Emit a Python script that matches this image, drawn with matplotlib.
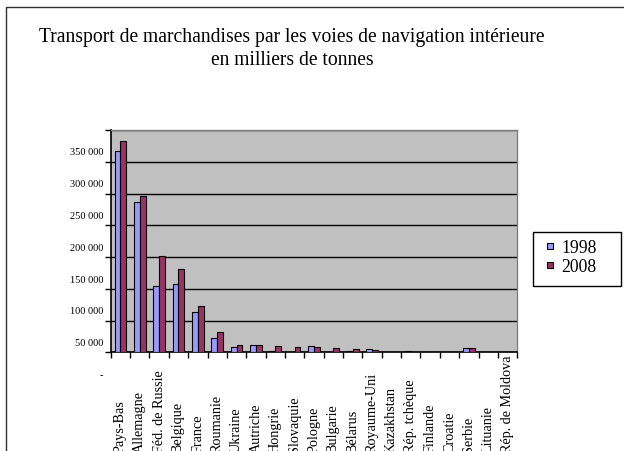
import matplotlib
matplotlib.use("Agg")
import matplotlib.pyplot as plt
import matplotlib.transforms as mtransforms
from matplotlib.patches import Rectangle
from matplotlib.lines import Line2D
import numpy as np

categories = ['Pays-Bas', 'Allemagne', 'Féd. de Russie', 'Belgique', 'France',
              'Roumanie', 'Ukraine', 'Autriche', 'Hongrie', 'Slovaquie',
              'Pologne', 'Bulgarie', 'Bélarus', 'Royaume-Uni', 'Kazakhstan',
              'Rép. tchèque', 'Finlande', 'Croatie', 'Serbie', 'Lituanie',
              'Rép. de Moldova']
values_1998 = [316500, 236500, 104400, 107600, 63100, 23200, 9000, 11100, 2500,
               900, 9200, 500, 1600, 4800, 0, 1800, 0, 700, 6400, 0, 0]
values_2008 = [332600, 245500, 151200, 131000, 72400, 31200, 11300, 11800, 9500,
               8500, 8200, 7000, 5400, 3800, 1000, 1200, 0, 0, 6400, 0, 0]
series_labels = ['1998', '2008']
series_colors = ['#9999FF', '#993366']
ytick_values = [0, 50000, 100000, 150000, 200000, 250000, 300000, 350000]
ytick_labels = ['-', '50 000', '100 000', '150 000', '200 000', '250 000',
                '300 000', '350 000']
title = "Transport de marchandises par les voies de navigation intérieure\nen milliers de tonnes"

plt.rcParams['font.family'] = ['Liberation Serif', 'DejaVu Serif']

W, H = 624, 452
fig = plt.figure(figsize=(W / 100, H / 100), dpi=100)
fig.patch.set_facecolor('white')

# outer chart frame
fig.patches.append(Rectangle((6 / W, -0.1), 1.2, (H - 8) / H + 0.1,
                             transform=fig.transFigure, fill=False,
                             edgecolor='#303030', linewidth=1.0))

left, right, top, bottom = 110.7, 517.3, 131, 353.3
ax = fig.add_axes([left / W, (H - bottom) / H, (right - left) / W, (bottom - top) / H])
ax.set_facecolor('#C0C0C0')

x = np.arange(len(categories))
bw = 0.3
ax.bar(x - bw / 2, values_1998, width=bw, color=series_colors[0], edgecolor='black',
       linewidth=0.8, label=series_labels[0], zorder=3)
ax.bar(x + bw / 2, values_2008, width=bw, color=series_colors[1], edgecolor='black',
       linewidth=0.8, label=series_labels[1], zorder=3)

ax.set_xlim(-0.5, len(categories) - 0.5)
ax.set_ylim(0, 350000)

ax.set_yticks(ytick_values)
ax.set_yticklabels(ytick_labels, fontsize=7.5)
ax.yaxis.grid(True, color='black', linewidth=1.0, zorder=1)
ax.set_axisbelow(True)
ax.tick_params(axis='y', direction='out', length=4, width=1, pad=1.5)
offset = mtransforms.ScaledTranslation(0, -21 / 100, fig.dpi_scale_trans)
for lab in ax.get_yticklabels():
    lab.set_transform(lab.get_transform() + offset)

ax.set_xticks(x)
ax.set_xticklabels(categories, rotation=90, fontsize=10.2, va='bottom', ha='center')
ax.set_xticks(np.arange(-0.5, len(categories), 1), minor=True)
ax.tick_params(axis='x', which='major', length=0, pad=0)
ax.tick_params(axis='x', which='minor', direction='out', length=4, width=1)
xoffset = mtransforms.ScaledTranslation(0, -(453 - bottom) / 100, fig.dpi_scale_trans)
for lab in ax.get_xticklabels():
    lab.set_transform(lab.get_transform() + xoffset)

for s in ['left', 'bottom']:
    ax.spines[s].set_color('black')
    ax.spines[s].set_linewidth(1.2)
for s in ['top', 'right']:
    ax.spines[s].set_color('#808080')
    ax.spines[s].set_linewidth(1.0)

fig.text(292 / W, 1 - 49 / H, title, ha='center', va='center', fontsize=14.1,
         linespacing=1.28)

# legend box
fig.patches.append(Rectangle((533 / W, 1 - 287 / H), 88 / W, 54 / H,
                             transform=fig.transFigure, fill=True,
                             facecolor='white', edgecolor='black', linewidth=1.0))
handles = [Line2D([], [], linestyle='none', marker='s', markersize=4.3,
                  markerfacecolor=c, markeredgecolor='black', markeredgewidth=0.8)
           for c in series_colors]
leg = fig.legend(handles, series_labels, loc='upper left',
                 bbox_to_anchor=(544 / W, 1 - 240 / H),
                 bbox_transform=fig.transFigure,
                 prop={'size': 12.7}, frameon=False,
                 handlelength=0.64, handletextpad=0.35, borderpad=0,
                 labelspacing=0.12, borderaxespad=0)

fig.savefig('out.png', dpi=100)
